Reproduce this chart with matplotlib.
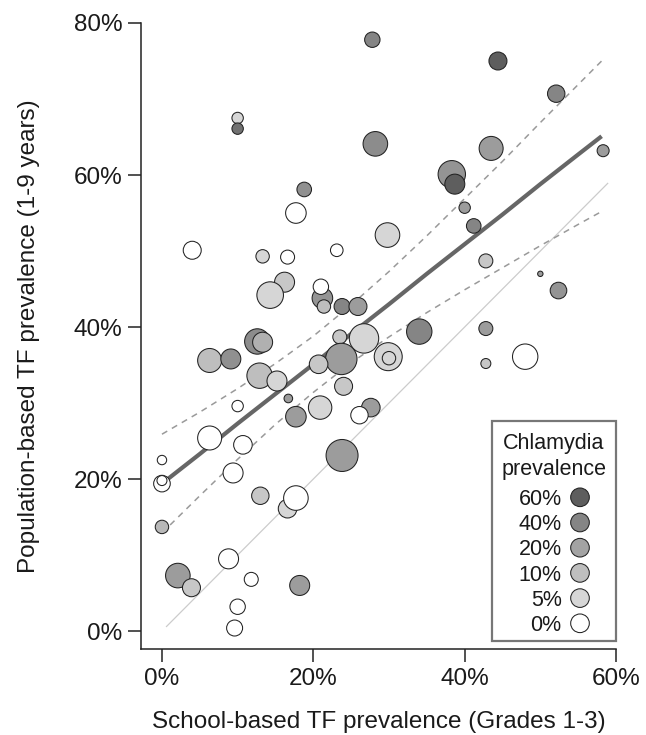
import matplotlib.pyplot as plt
from matplotlib.colors import LinearSegmentedColormap, Normalize
from matplotlib.patches import Rectangle

plt.rcParams['font.family'] = ['Liberation Sans', 'DejaVu Sans']

# one entry per district: school-based TF %, population-based TF %,
# chlamydia prevalence % (fill shade), children examined (bubble area)
school_tf = [27.8, 10.0, 10.0, 28.2, 18.8, 17.7, 29.8, 4.0, 23.1, 13.3,
             16.6, 44.4, 52.1, 43.5, 58.3, 38.3, 38.7, 40.0, 41.2, 16.2,
             14.3, 21.2, 21.0, 21.4, 23.8, 25.9, 12.6, 13.3, 6.3, 9.1,
             23.5, 26.7, 23.7, 20.7, 12.9, 15.2, 24.0, 10.0, 16.7, 20.9,
             17.7, 27.6, 26.1, 6.3, 10.7, 23.8, 29.9, 30.0, 34.0, 42.8,
             42.8, 42.8, 0.0, 0.0, 0.0, 9.4, 13.0, 16.6, 17.7, 0.0,
             2.1, 3.9, 8.8, 11.8, 10.0, 9.6, 18.2, 50.0, 52.4, 48.0]
pop_tf = [77.8, 67.5, 66.1, 64.1, 58.1, 55.0, 52.1, 50.1, 50.1, 49.3,
          49.2, 75.0, 70.7, 63.5, 63.2, 60.1, 58.8, 55.7, 53.3, 45.9,
          44.2, 43.8, 45.3, 42.7, 42.7, 42.7, 38.1, 38.0, 35.6, 35.8,
          38.7, 38.5, 35.8, 35.1, 33.6, 32.9, 32.2, 29.6, 30.6, 29.4,
          28.2, 29.4, 28.4, 25.4, 24.5, 23.1, 36.1, 35.9, 39.4, 48.7,
          39.8, 35.2, 22.5, 19.4, 19.8, 20.8, 17.8, 16.1, 17.5, 13.7,
          7.3, 5.7, 9.5, 6.8, 3.2, 0.4, 6.0, 47.0, 44.8, 36.1]
chlamydia = [40, 5, 50, 35, 33, 0, 5, 0, 0, 5,
             0, 60, 40, 25, 25, 30, 60, 25, 40, 8,
             5, 30, 0, 10, 40, 25, 35, 15, 10, 33,
             8, 5, 25, 8, 10, 5, 8, 0, 25, 5,
             25, 25, 0, 0, 0, 25, 5, 5, 40, 8,
             25, 8, 0, 0, 0, 0, 8, 5, 0, 12,
             25, 8, 0, 0, 0, 0, 25, 25, 30, 0]
n_examined = [237, 130, 130, 605, 213, 424, 605, 324, 159, 180,
              196, 324, 303, 576, 144, 751, 400, 130, 213, 400,
              708, 424, 237, 180, 256, 324, 645, 400, 576, 400,
              196, 864, 986, 346, 645, 400, 324, 130, 74, 548,
              424, 346, 303, 576, 346, 1024, 784, 180, 645, 196,
              196, 100, 88, 276, 100, 400, 303, 346, 605, 180,
              605, 324, 400, 196, 237, 256, 400, 29, 276, 645]

# regression line and its 95% band
fit_x = [0, 5, 10, 15, 20, 25, 30, 35, 40, 45, 50, 55, 58.1]
fit_y = [19.4, 23.3, 27.3, 31.2, 35.1, 39.1, 43.0, 47.0, 50.9, 54.8, 58.8, 62.7, 65.1]
band_hi = [25.9, 28.8, 31.9, 35.2, 38.8, 42.9, 47.3, 52.0, 56.9, 61.8, 66.9, 71.9, 75.0]
band_lo = [12.9, 17.8, 22.6, 27.2, 31.4, 35.3, 38.7, 41.9, 44.9, 47.8, 50.7, 53.5, 55.2]
ident = [0.6, 58.9]

legend_levels = [60, 40, 20, 10, 5, 0]
legend_greys = ['#5e5e5e', '#858585', '#a3a3a3', '#bdbdbd', '#d6d6d6', '#ffffff']

cmap = LinearSegmentedColormap.from_list(
    'chl', [(v / 60, c) for v, c in sorted(zip(legend_levels, legend_greys))])
norm = Normalize(0, 60)

W, H = 646, 735
fig = plt.figure(figsize=(W / 100, H / 100), dpi=100)
ax = fig.add_axes([141 / W, 1 - 649.3 / H, 475 / W, 626.3 / H])

ax.plot(ident, ident, color='#cccccc', lw=0.9, zorder=1)
ax.plot(fit_x, band_hi, color='#9a9a9a', lw=1.1, ls=(0, (4, 3.5)), zorder=1)
ax.plot(fit_x, band_lo, color='#9a9a9a', lw=1.1, ls=(0, (4, 3.5)), zorder=1)
ax.plot(fit_x, fit_y, color='#666666', lw=3.0, solid_capstyle='butt', zorder=1)

ax.scatter(school_tf, pop_tf, s=[n * 0.518 for n in n_examined],
           c=chlamydia, cmap=cmap, norm=norm,
           edgecolors='#222222', linewidths=0.75, zorder=2)

ax.set_xlim(-2.77, 60)
ax.set_ylim(-2.4, 80)
ax.set_xticks([0, 20, 40, 60])
ax.set_xticklabels(['0%', '20%', '40%', '60%'])
ax.set_yticks([0, 20, 40, 60, 80])
ax.set_yticklabels(['0%', '20%', '40%', '60%', '80%'])
for s in ['top', 'right']:
    ax.spines[s].set_visible(False)
for s in ['left', 'bottom']:
    ax.spines[s].set_linewidth(1.1)
    ax.spines[s].set_color('#222222')
ax.tick_params(length=9.5, width=1.1, color='#222222', labelsize=17.5,
               labelcolor='#1a1a1a', pad=4)
ax.set_xlabel('School-based TF prevalence (Grades 1-3)', fontsize=17.5,
              color='#1a1a1a', labelpad=15)
ax.set_ylabel('Population-based TF prevalence (1-9 years)', fontsize=17.5,
              color='#1a1a1a', labelpad=24)

# legend box, drawn by hand so the spacing follows the original
def fx(px):
    return px / W

def fy(py):
    return 1 - py / H

tf = fig.transFigure
ax.add_patch(Rectangle((fx(491.7), fy(640.7)), fx(616) - fx(491.7),
                       fy(420.7) - fy(640.7), transform=tf, clip_on=False,
                       facecolor='white', edgecolor='#777777', lw=1.6,
                       zorder=5))
ax.text(fx(554), fy(448.5), 'Chlamydia', transform=tf, ha='center',
        va='baseline', fontsize=15.5, color='#1a1a1a', zorder=6)
ax.text(fx(554.5), fy(475), 'prevalence', transform=tf, ha='center',
        va='baseline', fontsize=15.5, color='#1a1a1a', zorder=6)
row_y = [497.3 + 25.2 * i for i in range(len(legend_levels))]
for lev, yy in zip(legend_levels, row_y):
    ax.text(fx(561.7), fy(yy + 7.7), f'{lev}%', transform=tf, ha='right',
            va='baseline', fontsize=15.5, color='#1a1a1a', zorder=6)
ax.scatter([fx(580)] * len(legend_levels), [fy(yy) for yy in row_y],
           s=180, c=legend_levels, cmap=cmap, norm=norm,
           edgecolors='#222222', linewidths=0.75,
           transform=tf, clip_on=False, zorder=7)

plt.savefig('out.png', dpi=100)
